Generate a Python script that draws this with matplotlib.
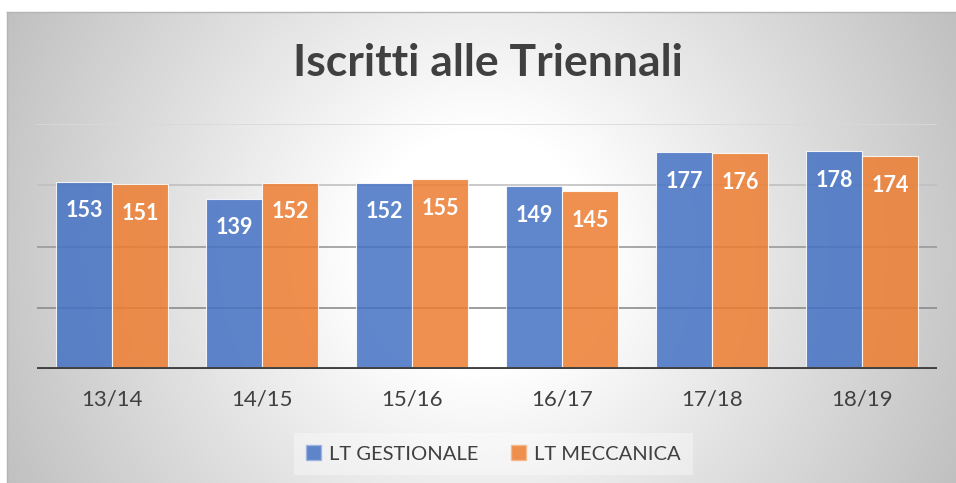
import numpy as np
import matplotlib.pyplot as plt
from matplotlib.patches import Patch

plt.rcParams['font.family'] = ['Lato', 'DejaVu Sans']

# Data
years = ['13/14', '14/15', '15/16', '16/17', '17/18', '18/19']
gestionale = [153, 139, 152, 149, 177, 178]
meccanica = [151, 152, 155, 145, 176, 174]
series_names = ['LT GESTIONALE', 'LT MECCANICA']

blue = '#4472C4'
orange = '#ED7D31'
text_col = '#404040'

W, H = 956, 483
fig = plt.figure(figsize=(W / 100, H / 100), dpi=100)
fig.patch.set_facecolor('white')

# Chart area background with radial gradient
x0, y0 = 7, 12
bg = fig.add_axes([x0 / W, 0, (W - x0) / W, (H - y0) / H])
gx, gy = np.meshgrid(np.arange(x0, W), np.arange(y0, H))
r = np.hypot(gx - 480, gy - 250)
shade = 255 - np.clip((r - 120) / 410, 0, 1) * 63
img = np.dstack([shade, shade, shade]) / 255.0
bg.imshow(img, aspect='auto', extent=[0, 1, 0, 1], interpolation='bilinear')
bg.set_xticks([])
bg.set_yticks([])
for name, s in bg.spines.items():
    s.set_color('#b4b4b4')
    s.set_linewidth(1)
    s.set_visible(name in ('top', 'left'))
bg.set_zorder(0)

# Main axes
ax = fig.add_axes([37 / W, 1 - 369 / H, 900 / W, 245 / H])
ax.set_zorder(1)
ax.patch.set_alpha(0)

x = np.arange(len(years))
bw = 0.373
b1 = ax.bar(x - bw / 2, gestionale, bw, color=blue, alpha=0.85,
            edgecolor='white', linewidth=0.8, zorder=2)
b2 = ax.bar(x + bw / 2, meccanica, bw, color=orange, alpha=0.85,
            edgecolor='white', linewidth=0.8, zorder=2)

for bars, vals in [(b1, gestionale), (b2, meccanica)]:
    for rect, v in zip(bars, vals):
        ax.annotate(str(v), (rect.get_x() + rect.get_width() / 2, v),
                    xytext=(0, -21), textcoords='offset points',
                    ha='center', va='center', color='white',
                    fontsize=15.5, fontweight='bold', zorder=4)

# gridlines (lighter toward top, as in the original)
grid_vals = [50, 100, 150, 200]
grid_cols = ['#8c8c8c', '#9a9a9a', '#c0c0c0', '#d9d9d9']
for gv, gc in zip(grid_vals, grid_cols):
    ax.axhline(gv, color=gc, linewidth=1.2, zorder=1)
ax.axhline(0, color=text_col, linewidth=2.8, zorder=3)

ax.set_xlim(-0.5, len(years) - 0.5)
ax.set_ylim(0, 200)
ax.set_yticks([])
ax.set_xticks(x)
ax.set_xticklabels(years, fontsize=16, color=text_col)
ax.tick_params(axis='x', length=0, pad=15)
for s in ax.spines.values():
    s.set_visible(False)

fig.text(0.510, 1 - 63 / H, 'Iscritti alle Triennali', ha='center', va='center',
         fontsize=32, fontweight='bold', color=text_col)

handles = [Patch(facecolor=blue, alpha=0.85, edgecolor='#9db4e0'),
           Patch(facecolor=orange, alpha=0.85, edgecolor='#f5b88e')]
leg = fig.legend(handles, series_names, loc='center', bbox_to_anchor=(0.516, 1 - 454 / H),
                 ncol=2, fontsize=14.5, frameon=True, fancybox=False,
                 handlelength=0.75, handleheight=0.75, handletextpad=0.4,
                 columnspacing=1.6, borderpad=0.6)
for t in leg.get_texts():
    t.set_color(text_col)
leg.get_frame().set_facecolor('white')
leg.get_frame().set_alpha(0.35)
leg.get_frame().set_linewidth(0)

fig.savefig('out.png', dpi=100)
